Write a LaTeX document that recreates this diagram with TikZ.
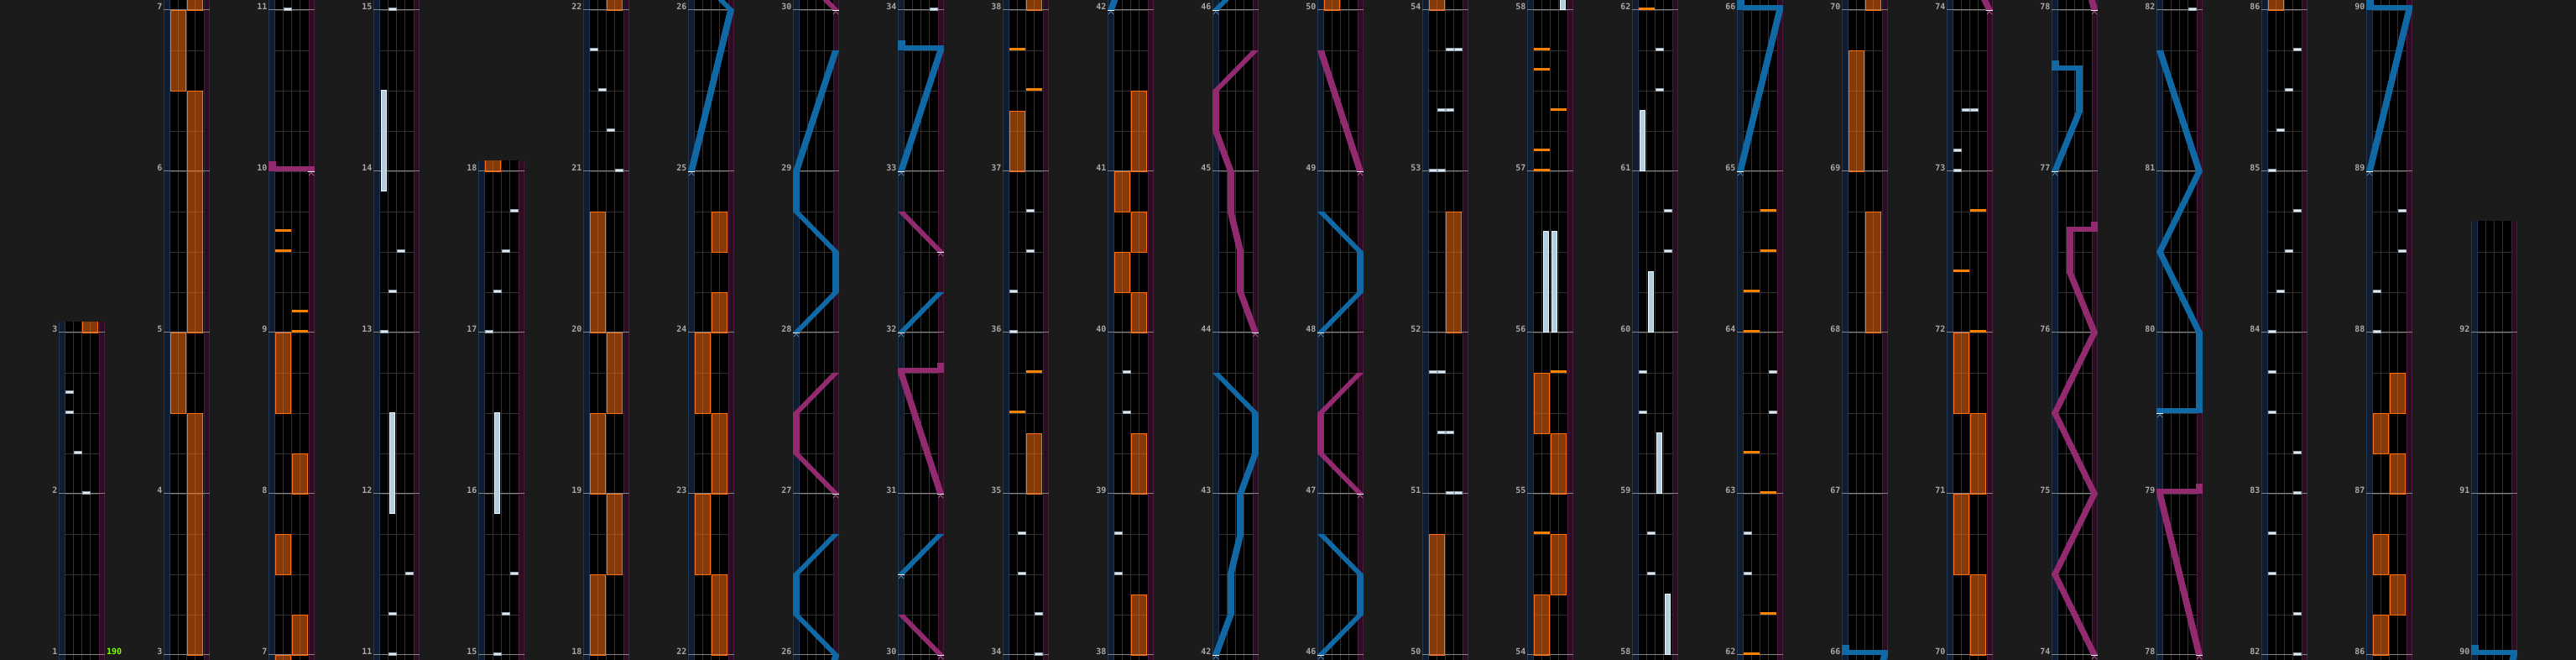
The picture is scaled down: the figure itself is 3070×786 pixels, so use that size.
\documentclass[tikz,border=0pt]{standalone}
\usepackage{fontspec}
\newfontfamily\numfont{DejaVu Sans Mono}
\definecolor{bgdark}{RGB}{27,27,27}
\definecolor{lanebl}{RGB}{16,28,47}
\definecolor{laneblx}{RGB}{32,56,86}
\definecolor{lanerd}{RGB}{44,14,35}
\definecolor{lanerdx}{RGB}{78,26,60}
\definecolor{gridgray}{RGB}{50,50,50}
\definecolor{barc}{RGB}{132,132,132}
\definecolor{numgray}{RGB}{168,168,168}
\definecolor{bpmgreen}{RGB}{128,255,0}
\definecolor{btwhite}{RGB}{222,232,240}
\definecolor{btedge}{RGB}{150,165,178}
\definecolor{btholdc}{RGB}{176,206,224}
\definecolor{btrim}{RGB}{236,246,252}
\definecolor{fxorange}{RGB}{255,112,16}
\definecolor{fxchipc}{RGB}{255,130,0}
\definecolor{laserbl}{RGB}{16,104,164}
\definecolor{laserpk}{RGB}{146,42,112}
\tikzset{
    gridline/.style={draw=gridgray,line width=0.8pt},
    barline/.style={draw=barc,line width=1pt},
    btchip/.style={fill=btwhite,draw=btedge,line width=0.4pt},
    fxchip/.style={fill=fxchipc},
    fxhold/.style={fill=fxorange,fill opacity=0.52,draw=fxorange,line width=0.9pt},
    bthold/.style={fill=btholdc,draw=btrim,line width=1pt},
    mlabel/.style={font=\numfont\bfseries\fontsize{10}{10}\selectfont,text=numgray,anchor=base east,inner sep=0pt},
    bpmlabel/.style={font=\numfont\bfseries\fontsize{10}{10}\selectfont,text=bpmgreen,anchor=base west,inner sep=0pt}
}
% notes take global measure times; \mz is the first measure of the column
\newcommand\btnote[2]{\ifdim#2pt>\lo pt\ifdim#2pt<\hi pt
  \path[btchip] ({-2.2+10*#1},{#2-\mz}) rectangle ++(9,0.0156);\fi\fi}
\newcommand\fxnote[2]{\ifdim#2pt>\lo pt\ifdim#2pt<\hi pt
  \path[fxchip] ({8+20*#1},{#2-\mz}) rectangle ++(19,0.0156);\fi\fi}
\newcommand\fxholdnote[3]{\ifdim#3pt>\lo pt\ifdim#2pt<\hi pt
  \path[fxhold] ({8.5+20*#1},{#2-\mz}) rectangle ({26.5+20*#1},{#3-\mz});\fi\fi}
\newcommand\btholdnote[3]{\ifdim#3pt>\lo pt\ifdim#2pt<\hi pt
  \path[bthold] ({-0.5+10*#1},{#2-\mz}) rectangle ({5.5+10*#1},{#3-\mz});\fi\fi}
\newcommand\lseg[5]{\ifdim#5pt>\lo pt\ifdim#3pt<\hi pt
  \fill[#1] ({47*#2},{#3-\mz}) -- ({8+47*#2},{#3-\mz}) -- ({8+47*#4},{#5-\mz}) -- ({47*#4},{#5-\mz}) -- cycle;\fi\fi}
\newcommand\laser[2]{\gdef\lpa{}%
  \foreach \pa/\ta in {#2}{\ifx\lpa\empty\else\lseg{#1}{\lpa}{\lta}{\pa}{\ta}\fi
    \xdef\lpa{\pa}\xdef\lta{\ta}}}
\newcommand\lslam[4]{\ifdim#4pt>\lo pt\ifdim#4pt<\hi pt
  \fill[#1] ({47*min(#2,#3)},{#4-\mz}) rectangle ({8+47*max(#2,#3)},{#4-\mz+0.03125});\fi\fi}
\newcommand\ltail[3]{\ifdim#3pt>\lo pt\ifdim#3pt<\hi pt
  \fill[#1] ({47*#2-0.5},{#3-\mz}) rectangle ({8.5+47*#2},{#3-\mz+0.0625});\fi\fi}
\newcommand\lstart[3]{\ifdim#3pt>\lo pt\ifdim#3pt<\hi pt
  \draw[white,line width=0.8pt] ({47*#2},{#3-\mz}) -- ++(8,0);
  \draw[#1!70!white,line width=0.7pt] ({1+47*#2},{#3-\mz-0.026}) -- ++(3,0.018) -- ++(3,-0.018);\fi\fi}
\newcommand\chartnotes{%
  \foreach \sd/\ha/\hb in {1/3/4.5,0/4.5/5,1/5/6.5,0/6.5/7,1/7/7.25,0/7.5/7.75,1/8/8.25,0/8.5/9,
      0/18/18.5,1/18.5/19,0/19/19.5,1/19.5/20,0/20/20.75,
      1/22/22.5,0/22.5/23,1/23/23.5,0/23.5/24,1/24/24.25,1/24.5/24.75,
      1/35/35.375,0/37/37.375,1/38/38.375,1/39/39.375,1/40/40.25,0/40.25/40.5,1/40.5/40.75,0/40.75/41,1/41/41.5,
      0/50/50.75,1/52/52.75,0/54/54.375,1/54.375/54.75,1/55/55.375,0/55.375/55.75,
      1/68/68.75,0/69/69.75,1/70/70.5,0/70.5/71,1/71/71.5,0/71.5/72,
      0/86/86.25,1/86.25/86.5,0/86.5/86.75,1/87/87.25,0/87.25/87.5,1/87.5/87.75}
    {\fxholdnote{\sd}{\ha}{\hb}}
  \foreach \lane/\ha/\hb in {2/11.875/12.5,1/13.875/14.5,2/15.875/16.5,2/56/56.625,3/56/56.625,
      4/58/58.375,3/59/59.375,2/60/60.375,1/61/61.375}
    {\btholdnote{\lane}{\ha}{\hb}}
  \foreach \sd/\tm in {1/9,1/9.125,0/9.5,0/9.625,0/35.5,1/35.75,1/37.5,0/37.75,
      0/54.75,1/55.75,0/57,0/57.125,1/57.375,0/57.625,0/57.75,
      0/62,1/62.25,1/63,0/63.25,0/64,0/64.25,1/64.5,1/64.75,1/72,0/72.375,1/72.75}
    {\fxnote{\sd}{\tm}}
  \foreach \lane/\tm in {1/2.625,1/2.5,2/2.25,3/2,2/11,2/11.25,4/11.5,1/13,2/13.25,3/13.5,
      2/15,3/15.25,4/15.5,1/17,2/17.25,3/17.5,4/17.75,4/21,3/21.25,2/21.5,1/21.75,
      4/34,4/34.25,2/34.5,2/34.75,1/36,1/36.25,3/36.5,3/36.75,1/38.5,1/38.75,2/39.5,2/39.75,
      3/51,4/51,2/51.375,3/51.375,1/51.75,2/51.75,1/53,2/53,2/53.375,3/53.375,3/53.75,4/53.75,
      2/58.5,2/58.75,1/59.5,1/59.75,4/60.5,4/60.75,3/61.5,3/61.75,1/62.5,1/62.75,4/63.5,4/63.75,
      1/73,1/73.125,2/73.375,3/73.375,
      4/82,4/82.25,1/82.5,1/82.75,4/83,4/83.25,1/83.5,1/83.75,1/84,2/84.25,3/84.5,4/84.75,
      1/85,2/85.25,3/85.5,4/85.75,1/88,1/88.25,4/88.5,4/88.75}
    {\btnote{\lane}{\tm}}
  % lasers
  \laser{laserbl}{0/25,1/26,0/26.25,0/26.5,1/26.75}
  \laser{laserbl}{0/28,1/28.25,1/28.5,0/28.75,0/29,1/29.75}
  \laser{laserbl}{0/30.5,1/30.75}
  \laser{laserbl}{0/32,1/32.25}
  \laser{laserbl}{0/33,1/33.75}\lslam{laserbl}{1}{0}{33.75}\ltail{laserbl}{0}{33.75}
  \laser{laserbl}{0/42,0.375/42.25,0.375/42.5,0.625/42.75,0.625/43,1/43.25,1/43.5,0/43.75}
  \laser{laserbl}{0/46,1/46.25,1/46.5,0/46.75}
  \laser{laserbl}{0/48,1/48.25,1/48.5,0/48.75}
  \laser{laserbl}{0/65,1/66}\lslam{laserbl}{1}{0}{66}\ltail{laserbl}{0}{66}
  \laser{laserbl}{0/77,0.625/77.375,0.625/77.625}\lslam{laserbl}{0.625}{0}{77.625}\ltail{laserbl}{0}{77.625}
  \lslam{laserbl}{0}{1}{79.5}\laser{laserbl}{1/79.5,1/80,0/80.5,1/81,0/81.75}
  \laser{laserbl}{0/89,1/90}\lslam{laserbl}{1}{0}{90}\ltail{laserbl}{0}{90}
  \lslam{laserpk}{1}{0}{10}\ltail{laserpk}{0}{10}
  \laser{laserpk}{1/27,0/27.25,0/27.5,1/27.75}
  \laser{laserpk}{1/30,0/30.25}
  \laser{laserpk}{1/31,0/31.75}\lslam{laserpk}{0}{1}{31.75}\ltail{laserpk}{1}{31.75}
  \laser{laserpk}{1/32.5,0/32.75}
  \laser{laserpk}{1/44,0.625/44.25,0.625/44.5,0.375/44.75,0.375/45,0/45.25,0/45.5,1/45.75}
  \laser{laserpk}{1/47,0/47.25,0/47.5,1/47.75}
  \laser{laserpk}{1/49,0/49.75}
  \laser{laserpk}{1/74,0/74.5,1/75,0/75.5,1/76,0.375/76.375,0.375/76.625}\lslam{laserpk}{0.375}{1}{76.625}\ltail{laserpk}{1}{76.625}
  \laser{laserpk}{1/78,0/79}\lslam{laserpk}{0}{1}{79}\ltail{laserpk}{1}{79}
  \foreach \tm in {25,28,30.5,32,33,42,46,48,65,77,79.5,89}{\lstart{laserbl}{0}{\tm}}
  \foreach \tm in {10,27,30,31,32.5,44,47,49,74,78}{\lstart{laserpk}{1}{\tm}}
}
\begin{document}
\begin{tikzpicture}[x=1pt,y=1pt]
  \useasboundingbox (0,0) rectangle (3070,786);
  \fill[bgdark] (0,0) rectangle (3070,786);
  \foreach \k/\mz/\tp/\nl in {1/1/2.0625/2,2/3/4.0625/4,3/7/4.0625/4,4/11/4.0625/4,5/15/3.0625/3,
      6/18/4.0625/4,7/22/4.0625/4,8/26/4.0625/4,9/30/4.0625/4,10/34/4.0625/4,11/38/4.0625/4,
      12/42/4.0625/4,13/46/4.0625/4,14/50/4.0625/4,15/54/4.0625/4,16/58/4.0625/4,17/62/4.0625/4,
      18/66/4.0625/4,19/70/4.0625/4,20/74/4.0625/4,21/78/4.0625/4,22/82/4.0625/4,23/86/4.0625/4,
      24/90/2.6875/2}{
    \pgfmathsetmacro\cx{70+125*(\k-1)}
    \pgfmathsetmacro\lo{\mz-0.2}
    \pgfmathsetmacro\hi{\mz+\tp+0.2}
    \begin{scope}[xshift=\cx pt,yshift=6pt,y=192pt]
      \begin{scope}
        \clip (0,-0.03125) rectangle (55,\tp);
        \fill[lanebl] (0,-1) rectangle (7.5,5);
        \fill[lanerd] (47.5,-1) rectangle (55,5);
        \fill[black] (7.5,-1) rectangle (47.5,5);
        \draw[laneblx,line width=1pt] (0.5,-1) -- (0.5,5) (7,-1) -- (7,5);
        \draw[lanerdx,line width=1pt] (48,-1) -- (48,5) (54.5,-1) -- (54.5,5);
        \foreach \x in {17.5,27.5,37.5} \draw[gridline] (\x,-1) -- (\x,5);
        \foreach \b in {0.25,0.5,...,4} \draw[gridline] (7.5,\b) -- (47.5,\b);
        \foreach \m in {0,...,4} \draw[barline] (0,\m) -- (55,\m);
        \chartnotes
      \end{scope}
      \foreach \m in {0,...,\nl}{
        \pgfmathtruncatemacro\lab{\mz+\m}
        \node[mlabel] (m\lab-\k) at (-1.5,\m) {\lab};}
    \end{scope}
  }
  \node[bpmlabel] (bpm) at (127,6) {190};
\end{tikzpicture}
\end{document}
